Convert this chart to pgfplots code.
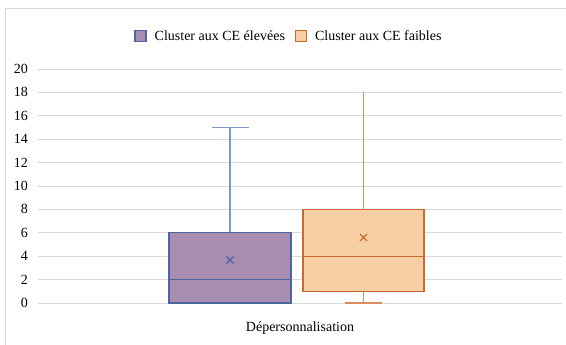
\documentclass[border=0pt]{standalone}
\usepackage{pgfplots}
\pgfplotsset{compat=1.18}
\usepackage{fontspec}
\setmainfont{Liberation Serif}
\definecolor{gridc}{HTML}{D9D9D9}
\definecolor{pfill}{HTML}{A98DB0}
\definecolor{pedge}{HTML}{4D66A3}
\definecolor{pwhisk}{HTML}{7F97C8}
\definecolor{ofill}{HTML}{F8CFA5}
\definecolor{oedge}{HTML}{C8692D}
\definecolor{owhisk}{HTML}{D98D5F}
\pgfplotsset{sqlegend/.style={legend image code/.code={\draw[##1] (0pt,-5.5pt) rectangle (11pt,5.5pt);}}}
\begin{document}
\begin{tikzpicture}
\useasboundingbox (-38pt,-42pt) rectangle (528pt,303pt);
\draw[gridc, line width=0.8pt] (-33pt,-45pt) -- (-33pt,295pt) -- (530pt,295pt);
\begin{axis}[
  at={(0pt,0pt)}, anchor=south west,
  scale only axis, width=524pt, height=234pt,
  xmin=0, xmax=524, ymin=0, ymax=20,
  clip=false,
  ytick={0,2,...,20},
  xtick={262}, xticklabels={Dépersonnalisation},
  ymajorgrids, grid style={gridc, line width=0.9pt},
  axis line style={draw=none},
  major tick length=0pt,
  /pgf/number format/assume math mode=true,
  tick label style={font=\fontsize{14}{16}\selectfont, text=black},
  yticklabel style={inner sep=0pt, xshift=-10pt},
  xticklabel style={yshift=-15pt},
  legend style={draw=none, fill=none, font=\fontsize{14}{16}\selectfont,
    at={(axis description cs:0.479,1.141)}, anchor=center,
    legend columns=2,
    /tikz/every odd column/.append style={column sep=6pt},
    /tikz/every even column/.append style={column sep=8pt}},
  legend cell align=left,
]
\addlegendimage{sqlegend, fill=pfill, draw=pedge, line width=1.2pt}
\addlegendentry{Cluster aux CE élevées}
\addlegendimage{sqlegend, fill=ofill, draw=oedge, line width=1.2pt}
\addlegendentry{Cluster aux CE faibles}

% Series 1: whiskers
\addplot[pwhisk, line width=1.3pt] coordinates {(192,6) (192,15)};
\addplot[pwhisk, line width=1.3pt] coordinates {(173.5,15) (210.5,15)};
\addplot[pwhisk, line width=1.3pt] coordinates {(173.5,0) (210.5,0)};
% Series 1: box
\addplot[draw=pedge, fill=pfill, line width=1.3pt] coordinates {(131,0) (253,0) (253,6) (131,6)} -- cycle;
\addplot[pedge, line width=1.3pt] coordinates {(131,2) (253,2)};
% Series 2: whiskers
\addplot[owhisk, line width=1.3pt] coordinates {(325.5,8) (325.5,18)};
\addplot[owhisk, line width=1.3pt] coordinates {(325.5,0) (325.5,1)};
\addplot[owhisk, line width=1.3pt] coordinates {(307,0) (344,0)};
% Series 2: box
\addplot[draw=oedge, fill=ofill, line width=1.3pt] coordinates {(265,1) (386,1) (386,8) (265,8)} -- cycle;
\addplot[oedge, line width=1.3pt] coordinates {(265,4) (386,4)};
% means
\addplot[only marks, mark=x, mark size=5pt, pedge, mark options={line width=1.2pt}] coordinates {(192,3.67)};
\addplot[only marks, mark=x, mark size=5pt, oedge, mark options={line width=1.2pt}] coordinates {(325.5,5.6)};
\end{axis}
\end{tikzpicture}
\end{document}
